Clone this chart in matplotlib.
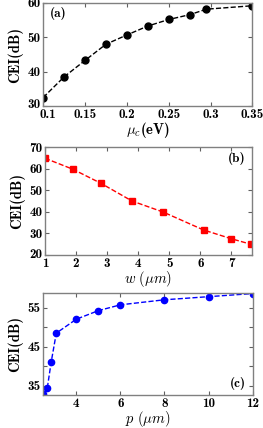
import matplotlib
matplotlib.use("Agg")
import matplotlib.pyplot as plt
import matplotlib.transforms as mtrans

plt.rcParams['mathtext.fontset'] = 'cm'

# Panel (a)
mu_c = [0.1, 0.125, 0.15, 0.175, 0.2, 0.225, 0.25, 0.275, 0.295, 0.35]
cei_a = [32.5, 38.5, 43.3, 48.0, 50.7, 53.3, 55.2, 56.6, 58.2, 59.2]
xticks_a = [0.1, 0.15, 0.2, 0.25, 0.3, 0.35]
xticklabels_a = ["0.1", "0.15", "0.2", "0.25", "0.3", "0.35"]
yticks_a = [30, 40, 50, 60]

# Panel (b)
w = [1.0, 1.9, 2.8, 3.8, 4.8, 6.1, 7.0, 7.62]
cei_b = [64.8, 59.7, 53.2, 45.0, 39.9, 31.6, 27.5, 25.0]
xticks_b = [1, 2, 3, 4, 5, 6, 7]
yticks_b = [20, 30, 40, 50, 60, 70]

# Panel (c)
p = [2.5, 2.68, 2.86, 3.09, 4.0, 5.0, 6.0, 8.0, 10.0, 12.0]
cei_c = [32.8, 34.3, 41.1, 48.5, 52.1, 54.3, 55.8, 57.1, 57.9, 58.7]
xticks_c = [4, 6, 8, 10, 12]
yticks_c = [35, 40, 45, 50, 55]
yticklabels_c = ["35", "", "45", "", "55"]

fig = plt.figure(figsize=(2.63, 4.28), dpi=100)

TS = 9.5
lab_font = dict(family='cmb10', size=10.5)

def style(ax):
    for s in ax.spines.values():
        s.set_color('#808080')
        s.set_linewidth(1.0)
    ax.tick_params(direction='in', top=True, right=True, length=3,
                   color='#606060', width=0.8)
    ax.tick_params(axis='x', pad=2)
    ax.tick_params(axis='y', pad=2)
    for lab in ax.get_xticklabels() + ax.get_yticklabels():
        lab.set_fontfamily('cmb10')
        lab.set_fontsize(TS)

def shift(label, dx, dy):
    label.set_transform(label.get_transform() +
                        mtrans.ScaledTranslation(dx / 100, dy / 100, fig.dpi_scale_trans))

ax1 = fig.add_axes([0.164, 0.752, 0.796, 0.241])
ax1.plot(mu_c, cei_a, '--', color='black', lw=1.0, marker='o', ms=5)
ax1.set_xlim(0.1, 0.35)
ax1.set_ylim(30, 60)
ax1.set_xticks(xticks_a)
ax1.set_xticklabels(xticklabels_a)
ax1.set_yticks(yticks_a)
style(ax1)
shift(ax1.get_xticklabels()[0], 5, 0)
shift(ax1.get_yticklabels()[0], 0, 3)
ax1.set_ylabel('CEI(dB)', fontdict=lab_font, labelpad=3)
ax1.set_xlabel(r'$\mu_c$(eV)', fontdict=lab_font, labelpad=-0.5)
ax1.text(0.03, 0.96, '(a)', transform=ax1.transAxes, ha='left', va='top',
         family='cmb10', size=TS)

ax2 = fig.add_axes([0.171, 0.4042, 0.786, 0.2523])
ax2.plot(w, cei_b, '--', color='red', lw=1.0, marker='s', ms=4.5)
ax2.set_xlim(1, 7.65)
ax2.set_ylim(20, 70)
ax2.set_xticks(xticks_b)
ax2.set_yticks(yticks_b)
style(ax2)
shift(ax2.get_yticklabels()[0], 0, 2)
ax2.set_ylabel('CEI(dB)', fontdict=lab_font, labelpad=3)
ax2.set_xlabel(r'$w\ (\mu m)$', fontdict=lab_font, labelpad=-0.5)
ax2.text(0.97, 0.95, '(b)', transform=ax2.transAxes, ha='right', va='top',
         family='cmb10', size=TS)

ax3 = fig.add_axes([0.1646, 0.0775, 0.796, 0.2375])
ax3.plot(p, cei_c, '--', color='blue', lw=1.0, marker='o', ms=4.5)
ax3.set_xlim(2.5, 12)
ax3.set_ylim(32.6, 58.8)
ax3.set_xticks(xticks_c)
ax3.set_yticks(yticks_c)
ax3.set_yticklabels(yticklabels_c)
style(ax3)
ax3.set_ylabel('CEI(dB)', fontdict=lab_font, labelpad=3)
ax3.set_xlabel(r'$p\ (\mu m)$', fontdict=lab_font, labelpad=-0.5)
ax3.text(0.97, 0.05, '(c)', transform=ax3.transAxes, ha='right', va='bottom',
         family='cmb10', size=TS)

fig.savefig('out.png', dpi=100)
